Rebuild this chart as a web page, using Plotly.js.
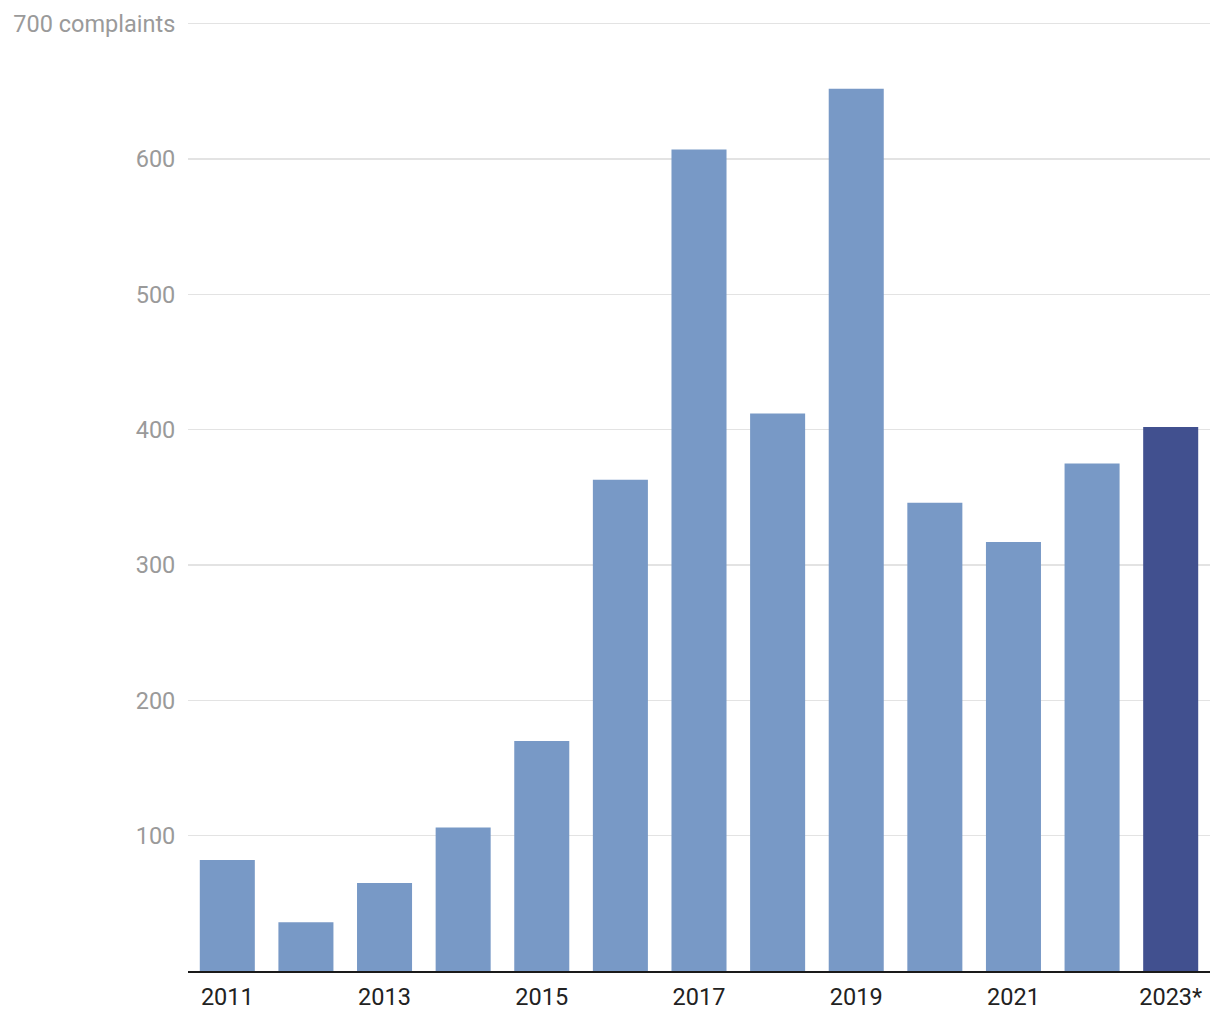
<!DOCTYPE html>
<html>
<head>
<meta charset="utf-8">
<script src="https://cdn.plot.ly/plotly-3.0.1.min.js"></script>
<style>html,body{margin:0;padding:0;background:#fff;}#chart{width:1220px;height:1020px;}</style>
</head>
<body>
<div id="chart"></div>
<script>
const years = ["2011","2012","2013","2014","2015","2016","2017","2018","2019","2020","2021","2022","2023*"];
const complaints = [82, 36, 65, 106, 170, 363, 607, 412, 652, 346, 317, 375, 402];
const xTickVals = ["2011","2013","2015","2017","2019","2021","2023*"];
const yTickVals = [100, 200, 300, 400, 500, 600, 700];
const yTickText = ["100", "200", "300", "400", "500", "600", "700 complaints"];

const barColors = years.map(y => y === "2023*" ? "#41508f" : "#7899c6");

Plotly.newPlot("chart", [{
  type: "bar",
  x: years,
  y: complaints,
  marker: {color: barColors, line: {width: 0}},
  width: 0.7,
  hoverinfo: "x+y"
}], {
  width: 1220,
  height: 1020,
  margin: {l: 188, r: 10, t: 21, b: 49},
  paper_bgcolor: "#fff",
  plot_bgcolor: "#fff",
  showlegend: false,
  font: {family: "Roboto, sans-serif"},
  xaxis: {
    type: "category",
    tickmode: "array",
    tickvals: xTickVals,
    ticktext: xTickVals,
    tickfont: {size: 23.5, color: "#222", family: "Roboto, sans-serif"},
    showline: true,
    linecolor: "#1a1a1a",
    linewidth: 2,
    ticks: "outside",
    ticklen: 4,
    tickcolor: "rgba(0,0,0,0)",
    showgrid: false,
    fixedrange: true
  },
  yaxis: {
    range: [0, 702],
    tickmode: "array",
    tickvals: yTickVals,
    ticktext: yTickText,
    tickfont: {size: 23.5, color: "#9a9a9a", family: "Roboto, sans-serif"},
    showgrid: true,
    gridcolor: "#e3e3e3",
    gridwidth: 1.5,
    zeroline: false,
    showline: false,
    ticks: "outside",
    ticklen: 7,
    tickcolor: "rgba(0,0,0,0)",
    fixedrange: true
  }
}, {displayModeBar: false, staticPlot: true});
</script>
</body>
</html>
